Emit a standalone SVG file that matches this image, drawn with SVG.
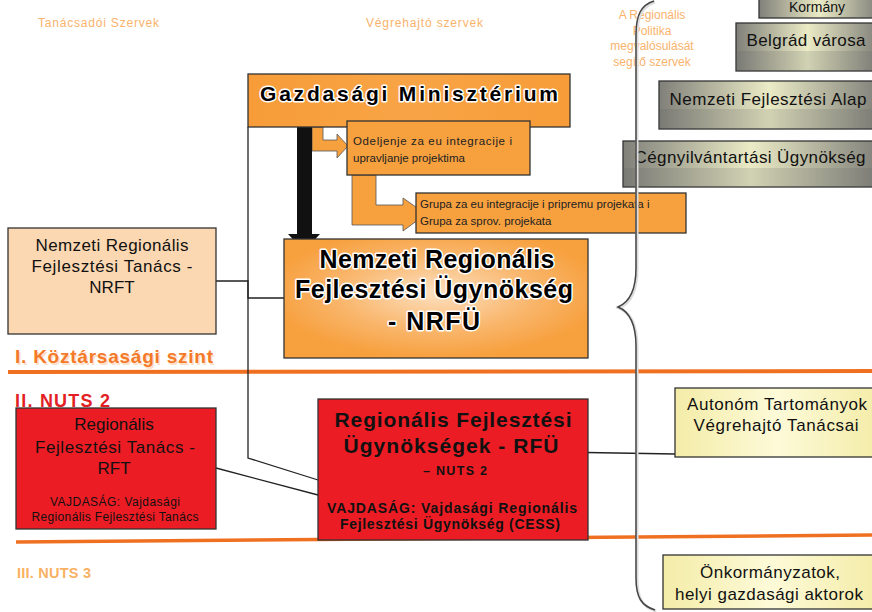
<svg xmlns="http://www.w3.org/2000/svg" width="872" height="612" viewBox="0 0 872 612">
<defs>
<linearGradient id="gray" x1="0" y1="0" x2="1" y2="0">
<stop offset="0" stop-color="#80807a"/><stop offset="0.5" stop-color="#ebebc6"/><stop offset="1" stop-color="#80807a"/>
</linearGradient>
<linearGradient id="yel" x1="0" y1="0" x2="1" y2="0">
<stop offset="0" stop-color="#f4eca8"/><stop offset="0.5" stop-color="#fdfad8"/><stop offset="1" stop-color="#f4eca8"/>
</linearGradient>
<radialGradient id="orRad" cx="0.5" cy="0.45" r="0.55">
<stop offset="0" stop-color="#fde0c0"/><stop offset="0.6" stop-color="#f9b56a"/><stop offset="1" stop-color="#f7a03e"/>
</radialGradient>
<linearGradient id="orLin" x1="0" y1="0" x2="1" y2="0">
<stop offset="0" stop-color="#f79c38"/><stop offset="0.5" stop-color="#f8a446"/><stop offset="1" stop-color="#f79c38"/>
</linearGradient>
</defs>
<style>
text{font-family:"Liberation Sans",Arial,sans-serif;}
.box{stroke:#333;stroke-width:1.3;}
.gray{fill:url(#gray);}
.shade{fill:#606060;opacity:0.18;}
.gt{font-size:17px;fill:#111;text-anchor:middle;}
.hdr{font-size:12px;fill:#f9b36c;}
.hdrc{font-size:12px;fill:#f9b36c;text-anchor:middle;}
.or{fill:#f7a03e;}
.sm{font-size:11.5px;fill:#222;}
.big{font-weight:bold;fill:#000;text-anchor:middle;stroke:#fff;stroke-width:3;paint-order:stroke;stroke-linejoin:round;}
.red{fill:#ec1c24;}
.rt{fill:#111;text-anchor:middle;}
.rb{fill:#111;text-anchor:middle;font-weight:bold;}
.con{fill:none;stroke:#222;stroke-width:1.3;}
.sec{fill:none;stroke:#f07022;}
</style>

<!-- headers -->
<g id="headers">
<text class="hdr" x="38" y="27" textLength="121">Tanácsadói Szervek</text>
<text class="hdr" x="366" y="27" textLength="117">Végrehajtó szervek</text>
<text class="hdrc" x="652" y="19">A Regionális</text>
<text class="hdrc" x="652" y="35">Politika</text>
<text class="hdrc" x="652" y="50">megvalósulását</text>
<text class="hdrc" x="652" y="66">segítő szervek</text>
</g>

<!-- section lines -->
<g id="sections">
<path class="sec" d="M8,372 L872,371" stroke-width="4"/>
<path class="sec" d="M16,542 L872,535" stroke-width="3.5"/>
<text x="15" y="363" font-size="19" font-weight="bold" fill="#fde0c8" textLength="198" transform="translate(1.5,1.5)">I. Köztársasági szint</text>
<text x="15" y="363" font-size="19" font-weight="bold" fill="#f47a2a" textLength="198">I. Köztársasági szint</text>
<text x="15" y="407" font-size="18" font-weight="bold" fill="#e31e25" textLength="95">II. NUTS 2</text>
<text x="17" y="578" font-size="14.5" font-weight="bold" fill="#f9b162" textLength="74">III. NUTS 3</text>
</g>

<!-- right gray boxes -->
<g id="kormany">
<rect class="box gray" x="759" y="-4" width="120" height="22"/>
<text class="gt" x="817" y="12" style="font-size:14px">Kormány</text>
</g>
<g id="belgrad">
<rect class="box gray" x="736" y="23" width="143" height="48"/>
<rect class="shade" x="736" y="51" width="143" height="20"/>
<text class="gt" x="806" y="46" textLength="119">Belgrád városa</text>
</g>
<g id="nfa">
<rect class="box gray" x="659" y="81" width="220" height="48"/>
<rect class="shade" x="659" y="109" width="220" height="20"/>
<text class="gt" x="768" y="105" textLength="197">Nemzeti Fejlesztési Alap</text>
</g>
<g id="cegny">
<rect class="box gray" x="623" y="141" width="256" height="46"/>
<rect class="shade" x="623" y="168" width="256" height="19"/>
<text class="gt" x="750" y="163" textLength="231">Cégnyilvántartási Ügynökség</text>
</g>

<!-- connectors -->
<g id="connectors">
<polygon points="312,127 323,127 323,140 337,140 337,134 348,146 337,158 337,151 312,151" fill="#f7a03e" stroke="#555" stroke-width="0.8"/>
<polygon points="352,175 376,175 376,205 403,205 403,198 426,214 403,231 403,225 352,225" fill="#f7a03e" stroke="#555" stroke-width="0.8"/>
<polygon points="297,127 312,127 312,234 320,234 304,251 288,234 297,234" fill="#111"/>
<path class="con" d="M216,281 H248 V298 H284"/>
<path class="con" d="M248,127 V458 L318,480"/>
<path class="con" d="M216,468 L318,495"/>
<path class="con" d="M557,452 L675,454"/>
</g>

<!-- ministry -->
<g id="ministry">
<rect class="box" x="248" y="74" width="322" height="53" fill="url(#orLin)"/>
<text class="big" x="409" y="101" font-size="21" textLength="298">Gazdasági Minisztérium</text>
</g>
<g id="odeljenje">
<rect class="box or" x="347" y="121" width="183" height="54"/>
<text class="sm" x="353" y="145" textLength="159">Odeljenje za eu integracije i</text>
<text class="sm" x="353" y="162">upravljanje projektima</text>
</g>
<g id="grupa">
<rect class="box or" x="416" y="193" width="270" height="40"/>
<text class="sm" x="420" y="208">Grupa za eu integracije i pripremu projekata i</text>
<text class="sm" x="420" y="225">Grupa za sprov. projekata</text>
</g>

<!-- NRFU -->
<g id="nrfu">
<rect class="box" x="284" y="239" width="304" height="119" fill="url(#orRad)"/>
<text class="big" x="437" y="268" font-size="25" textLength="235">Nemzeti Regionális</text>
<text class="big" x="434" y="298" font-size="25" textLength="278">Fejlesztési Ügynökség</text>
<text class="big" x="434" y="330" font-size="25" textLength="92">- NRFÜ</text>
</g>

<!-- NRFT -->
<g id="nrft">
<rect class="box" x="8" y="228" width="208" height="106" fill="#fcd8b2"/>
<text class="rt" x="112" y="251" font-size="17" textLength="153">Nemzeti Regionális</text>
<text class="rt" x="112" y="272" font-size="17" textLength="161">Fejlesztési Tanács -</text>
<text class="rt" x="112" y="293" font-size="17">NRFT</text>
</g>

<!-- RFT -->
<g id="rft">
<rect class="box red" x="16" y="408" width="200" height="121"/>
<text class="rt" x="114" y="430" font-size="17">Regionális</text>
<text class="rt" x="115" y="453" font-size="17" textLength="160">Fejlesztési Tanács -</text>
<text class="rt" x="114" y="474" font-size="17">RFT</text>
<text class="rt" x="115" y="506" font-size="12" textLength="130">VAJDASÁG: Vajdasági</text>
<text class="rt" x="115" y="521" font-size="12" textLength="167">Regionális Fejlesztési Tanács</text>
</g>

<!-- RFU -->
<g id="rfu">
<rect class="box red" x="318" y="399" width="270" height="141"/>
<text class="rb" x="453" y="427" font-size="21" textLength="237">Regionális Fejlesztési</text>
<text class="rb" x="451" y="453" font-size="21" textLength="215">Ügynökségek - RFÜ</text>
<text class="rb" x="455" y="475" font-size="12.5" textLength="64">– NUTS 2</text>
<text class="rb" x="452" y="513" font-size="14" textLength="250">VAJDASÁG: Vajdasági Regionális</text>
<text class="rb" x="450" y="529" font-size="14" textLength="220">Fejlesztési Ügynökség (CESS)</text>
</g>

<!-- Autonom -->
<g id="autonom">
<rect class="box" x="675" y="388" width="204" height="69" fill="url(#yel)"/>
<text class="rt" x="777" y="410" font-size="17" textLength="180">Autonóm Tartományok</text>
<text class="rt" x="776" y="431" font-size="17" textLength="165">Végrehajtó Tanácsai</text>
</g>

<!-- Onkormanyzatok -->
<g id="onkorm">
<rect class="box" x="663" y="555" width="216" height="54" fill="url(#yel)"/>
<text class="rt" x="770" y="578" font-size="17" textLength="140">Önkormányzatok,</text>
<text class="rt" x="769" y="600" font-size="17" textLength="188">helyi gazdasági aktorok</text>
</g>

<!-- brace -->
<g id="brace">
<path d="M654,1 C641,5 636,15 636,35 L636,268 C636,290 630,302 618,307 C630,312 636,324 636,346 L636,578 C636,598 642,606 655,610" fill="none" stroke="#ddd" stroke-width="3" transform="translate(1,1)"/>
<path d="M654,1 C641,5 636,15 636,35 L636,268 C636,290 630,302 618,307 C630,312 636,324 636,346 L636,578 C636,598 642,606 655,610" fill="none" stroke="#444" stroke-width="1.5"/>
</g>
</svg>
